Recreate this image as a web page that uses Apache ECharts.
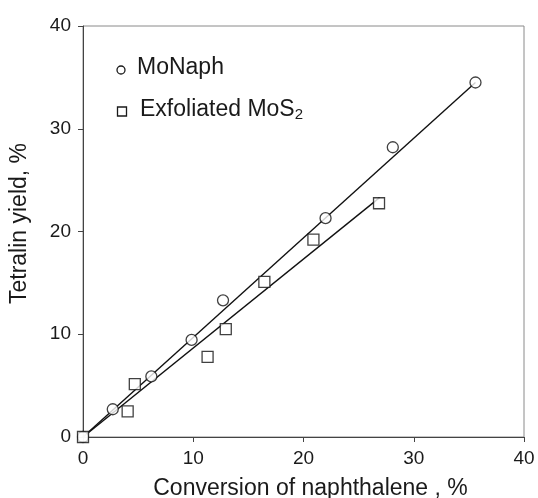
<!DOCTYPE html>
<html>
<head>
<meta charset="utf-8">
<script src="https://cdn.jsdelivr.net/npm/echarts@6/dist/echarts.min.js"></script>
<style>
  html, body { margin: 0; padding: 0; background: #fff; }
  #chart { width: 538px; height: 498px; }
</style>
</head>
<body>
<div id="chart"></div>
<script>
// MoNaph points (conversion %, tetralin yield %)
const moNaphX = [0, 2.7, 6.2, 9.85, 12.7, 22.0, 28.1, 35.6];
const moNaphY = [0, 2.7, 5.9, 9.45, 13.3, 21.3, 28.2, 34.5];
// Exfoliated MoS2 points
const mos2X = [0, 4.05, 4.7, 11.3, 12.95, 16.45, 20.9, 26.85];
const mos2Y = [0, 2.5, 5.15, 7.8, 10.5, 15.1, 19.2, 22.75];
// trend lines (start / end)
const moNaphFitX = [0, 35.6];
const moNaphFitY = [0, 34.5];
const mos2FitX = [0, 26.9];
const mos2FitY = [0, 23.3];

const pairs = (xs, ys) => xs.map((x, i) => [x, ys[i]]);
const font = 'Liberation Sans, Arial, sans-serif';
const ink = '#1a1a1a';

const chart = echarts.init(document.getElementById('chart'));
chart.setOption({
  animation: false,
  backgroundColor: '#fff',
  grid: {
    left: 83, top: 26, right: 14, bottom: 61,
    outerBoundsMode: 'none',
    show: true, borderColor: '#8a8a8a', borderWidth: 1
  },
  // legend drawn by hand so it sits where the original one does
  graphic: [
    { type: 'circle', shape: { cx: 121, cy: 70, r: 4 },
      style: { fill: '#fff', stroke: ink, lineWidth: 1.3 } },
    { type: 'text', left: 137, top: 56,
      style: { text: 'MoNaph', font: '23px ' + font, fill: ink } },
    { type: 'rect', shape: { x: 117.5, y: 107, width: 9, height: 9 },
      style: { fill: '#fff', stroke: ink, lineWidth: 1.3 } },
    { type: 'text', left: 140, top: 98,
      style: {
        text: 'Exfoliated MoS{sub|2}', font: '23px ' + font, fill: ink,
        rich: { sub: { fontFamily: font, fontSize: 15, fill: ink, verticalAlign: 'bottom', padding: [10, 0, 0, 0] } }
      } }
  ],
  xAxis: {
    type: 'value', min: 0, max: 40, interval: 10,
    name: 'Conversion of naphthalene , %',
    nameLocation: 'middle', nameGap: 40,
    nameTextStyle: { fontFamily: font, fontSize: 23, color: ink, padding: [0, 0, 0, 14] },
    axisLine: { show: true, lineStyle: { color: '#444', width: 1 } },
    axisTick: { show: true, inside: false, length: 5, lineStyle: { color: '#444' } },
    axisLabel: { fontFamily: font, fontSize: 19, color: ink, margin: 12 },
    splitLine: { show: false }
  },
  yAxis: {
    type: 'value', min: 0, max: 40, interval: 10,
    name: 'Tetralin yield, %',
    nameLocation: 'middle', nameGap: 52,
    nameTextStyle: { fontFamily: font, fontSize: 23, color: ink, padding: [0, 0, 0, 16] },
    axisLine: { show: true, lineStyle: { color: '#444', width: 1 } },
    axisTick: { show: true, inside: false, length: 5, lineStyle: { color: '#444' } },
    axisLabel: { fontFamily: font, fontSize: 19, color: ink, margin: 12 },
    splitLine: { show: false }
  },
  series: [
    {
      name: 'MoNaph fit', type: 'line', data: pairs(moNaphFitX, moNaphFitY),
      symbol: 'none', lineStyle: { color: '#111', width: 1.4 }, silent: true
    },
    {
      name: 'MoS2 fit', type: 'line', data: pairs(mos2FitX, mos2FitY),
      symbol: 'none', lineStyle: { color: '#111', width: 1.4 }, silent: true
    },
    {
      name: 'MoNaph', type: 'scatter', data: pairs(moNaphX, moNaphY),
      symbol: 'circle', symbolSize: 11,
      itemStyle: { color: '#fff', borderColor: '#111', borderWidth: 1.3 }, z: 5
    },
    {
      name: 'Exfoliated MoS2', type: 'scatter', data: pairs(mos2X, mos2Y),
      symbol: 'rect', symbolSize: 11,
      itemStyle: { color: '#fff', borderColor: '#111', borderWidth: 1.3 }, z: 5
    }
  ]
});
</script>
</body>
</html>
